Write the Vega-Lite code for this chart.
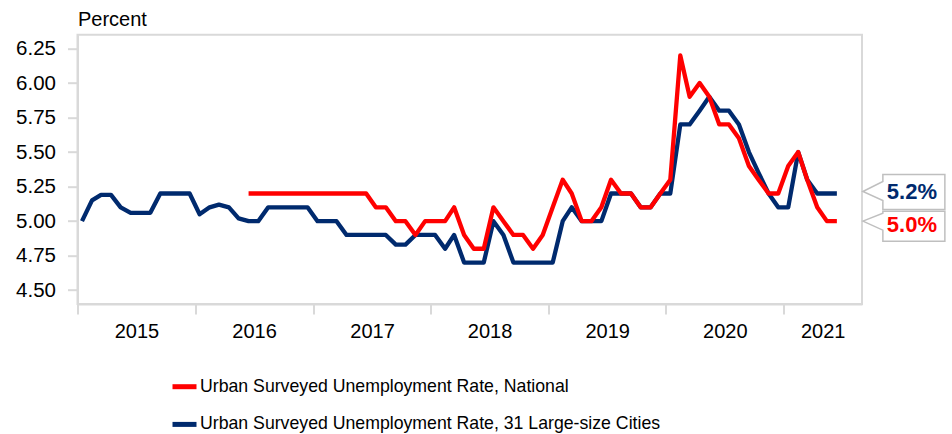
{
  "$schema": "https://vega.github.io/schema/vega-lite/v6.json",
  "autosize": {"type": "none"},
  "width": 784.5,
  "height": 269.3,
  "padding": {"left": 77.5, "top": 34.7, "right": 90, "bottom": 130},
  "background": "white",
  "data": {"values": [
    {"date": "2015-01-15", "series": "C", "rate": 5.0},
    {"date": "2015-02-15", "series": "C", "rate": 5.15},
    {"date": "2015-03-15", "series": "C", "rate": 5.19},
    {"date": "2015-04-15", "series": "C", "rate": 5.19},
    {"date": "2015-05-15", "series": "C", "rate": 5.1},
    {"date": "2015-06-15", "series": "C", "rate": 5.06},
    {"date": "2015-07-15", "series": "C", "rate": 5.06},
    {"date": "2015-08-15", "series": "C", "rate": 5.06},
    {"date": "2015-09-15", "series": "C", "rate": 5.2},
    {"date": "2015-10-15", "series": "C", "rate": 5.2},
    {"date": "2015-11-15", "series": "C", "rate": 5.2},
    {"date": "2015-12-15", "series": "C", "rate": 5.2},
    {"date": "2016-01-15", "series": "C", "rate": 5.05},
    {"date": "2016-02-15", "series": "C", "rate": 5.1},
    {"date": "2016-03-15", "series": "C", "rate": 5.12},
    {"date": "2016-04-15", "series": "C", "rate": 5.1},
    {"date": "2016-05-15", "series": "C", "rate": 5.02},
    {"date": "2016-06-15", "series": "C", "rate": 5.0},
    {"date": "2016-07-15", "series": "C", "rate": 5.0},
    {"date": "2016-08-15", "series": "C", "rate": 5.1},
    {"date": "2016-09-15", "series": "C", "rate": 5.1},
    {"date": "2016-10-15", "series": "C", "rate": 5.1},
    {"date": "2016-11-15", "series": "C", "rate": 5.1},
    {"date": "2016-12-15", "series": "C", "rate": 5.1},
    {"date": "2017-01-15", "series": "C", "rate": 5.0},
    {"date": "2017-02-15", "series": "C", "rate": 5.0},
    {"date": "2017-03-15", "series": "C", "rate": 5.0},
    {"date": "2017-04-15", "series": "C", "rate": 4.9},
    {"date": "2017-05-15", "series": "C", "rate": 4.9},
    {"date": "2017-06-15", "series": "C", "rate": 4.9},
    {"date": "2017-07-15", "series": "C", "rate": 4.9},
    {"date": "2017-08-15", "series": "C", "rate": 4.9},
    {"date": "2017-09-15", "series": "C", "rate": 4.83},
    {"date": "2017-10-15", "series": "C", "rate": 4.83},
    {"date": "2017-11-15", "series": "C", "rate": 4.9},
    {"date": "2017-12-15", "series": "C", "rate": 4.9},
    {"date": "2018-01-15", "series": "C", "rate": 4.9},
    {"date": "2018-02-15", "series": "C", "rate": 4.8},
    {"date": "2018-03-15", "series": "C", "rate": 4.9},
    {"date": "2018-04-15", "series": "C", "rate": 4.7},
    {"date": "2018-05-15", "series": "C", "rate": 4.7},
    {"date": "2018-06-15", "series": "C", "rate": 4.7},
    {"date": "2018-07-15", "series": "C", "rate": 5.0},
    {"date": "2018-08-15", "series": "C", "rate": 4.9},
    {"date": "2018-09-15", "series": "C", "rate": 4.7},
    {"date": "2018-10-15", "series": "C", "rate": 4.7},
    {"date": "2018-11-15", "series": "C", "rate": 4.7},
    {"date": "2018-12-15", "series": "C", "rate": 4.7},
    {"date": "2019-01-15", "series": "C", "rate": 4.7},
    {"date": "2019-02-15", "series": "C", "rate": 5.0},
    {"date": "2019-03-15", "series": "C", "rate": 5.1},
    {"date": "2019-04-15", "series": "C", "rate": 5.0},
    {"date": "2019-05-15", "series": "C", "rate": 5.0},
    {"date": "2019-06-15", "series": "C", "rate": 5.0},
    {"date": "2019-07-15", "series": "C", "rate": 5.2},
    {"date": "2019-08-15", "series": "C", "rate": 5.2},
    {"date": "2019-09-15", "series": "C", "rate": 5.2},
    {"date": "2019-10-15", "series": "C", "rate": 5.1},
    {"date": "2019-11-15", "series": "C", "rate": 5.1},
    {"date": "2019-12-15", "series": "C", "rate": 5.2},
    {"date": "2020-01-15", "series": "C", "rate": 5.2},
    {"date": "2020-02-15", "series": "C", "rate": 5.7},
    {"date": "2020-03-15", "series": "C", "rate": 5.7},
    {"date": "2020-04-15", "series": "C", "rate": 5.8},
    {"date": "2020-05-15", "series": "C", "rate": 5.9},
    {"date": "2020-06-15", "series": "C", "rate": 5.8},
    {"date": "2020-07-15", "series": "C", "rate": 5.8},
    {"date": "2020-08-15", "series": "C", "rate": 5.7},
    {"date": "2020-09-15", "series": "C", "rate": 5.5},
    {"date": "2020-10-15", "series": "C", "rate": 5.35},
    {"date": "2020-11-15", "series": "C", "rate": 5.2},
    {"date": "2020-12-15", "series": "C", "rate": 5.1},
    {"date": "2021-01-15", "series": "C", "rate": 5.1},
    {"date": "2021-02-15", "series": "C", "rate": 5.5},
    {"date": "2021-03-15", "series": "C", "rate": 5.3},
    {"date": "2021-04-15", "series": "C", "rate": 5.2},
    {"date": "2021-05-15", "series": "C", "rate": 5.2},
    {"date": "2021-06-15", "series": "C", "rate": 5.2, "label": "5.2%"},
    {"date": "2016-06-15", "series": "N", "rate": 5.2},
    {"date": "2016-07-15", "series": "N", "rate": 5.2},
    {"date": "2016-08-15", "series": "N", "rate": 5.2},
    {"date": "2016-09-15", "series": "N", "rate": 5.2},
    {"date": "2016-10-15", "series": "N", "rate": 5.2},
    {"date": "2016-11-15", "series": "N", "rate": 5.2},
    {"date": "2016-12-15", "series": "N", "rate": 5.2},
    {"date": "2017-01-15", "series": "N", "rate": 5.2},
    {"date": "2017-02-15", "series": "N", "rate": 5.2},
    {"date": "2017-03-15", "series": "N", "rate": 5.2},
    {"date": "2017-04-15", "series": "N", "rate": 5.2},
    {"date": "2017-05-15", "series": "N", "rate": 5.2},
    {"date": "2017-06-15", "series": "N", "rate": 5.2},
    {"date": "2017-07-15", "series": "N", "rate": 5.1},
    {"date": "2017-08-15", "series": "N", "rate": 5.1},
    {"date": "2017-09-15", "series": "N", "rate": 5.0},
    {"date": "2017-10-15", "series": "N", "rate": 5.0},
    {"date": "2017-11-15", "series": "N", "rate": 4.9},
    {"date": "2017-12-15", "series": "N", "rate": 5.0},
    {"date": "2018-01-15", "series": "N", "rate": 5.0},
    {"date": "2018-02-15", "series": "N", "rate": 5.0},
    {"date": "2018-03-15", "series": "N", "rate": 5.1},
    {"date": "2018-04-15", "series": "N", "rate": 4.9},
    {"date": "2018-05-15", "series": "N", "rate": 4.8},
    {"date": "2018-06-15", "series": "N", "rate": 4.8},
    {"date": "2018-07-15", "series": "N", "rate": 5.1},
    {"date": "2018-08-15", "series": "N", "rate": 5.0},
    {"date": "2018-09-15", "series": "N", "rate": 4.9},
    {"date": "2018-10-15", "series": "N", "rate": 4.9},
    {"date": "2018-11-15", "series": "N", "rate": 4.8},
    {"date": "2018-12-15", "series": "N", "rate": 4.9},
    {"date": "2019-01-15", "series": "N", "rate": 5.1},
    {"date": "2019-02-15", "series": "N", "rate": 5.3},
    {"date": "2019-03-15", "series": "N", "rate": 5.2},
    {"date": "2019-04-15", "series": "N", "rate": 5.0},
    {"date": "2019-05-15", "series": "N", "rate": 5.0},
    {"date": "2019-06-15", "series": "N", "rate": 5.1},
    {"date": "2019-07-15", "series": "N", "rate": 5.3},
    {"date": "2019-08-15", "series": "N", "rate": 5.2},
    {"date": "2019-09-15", "series": "N", "rate": 5.2},
    {"date": "2019-10-15", "series": "N", "rate": 5.1},
    {"date": "2019-11-15", "series": "N", "rate": 5.1},
    {"date": "2019-12-15", "series": "N", "rate": 5.2},
    {"date": "2020-01-15", "series": "N", "rate": 5.3},
    {"date": "2020-02-15", "series": "N", "rate": 6.2},
    {"date": "2020-03-15", "series": "N", "rate": 5.9},
    {"date": "2020-04-15", "series": "N", "rate": 6.0},
    {"date": "2020-05-15", "series": "N", "rate": 5.9},
    {"date": "2020-06-15", "series": "N", "rate": 5.7},
    {"date": "2020-07-15", "series": "N", "rate": 5.7},
    {"date": "2020-08-15", "series": "N", "rate": 5.6},
    {"date": "2020-09-15", "series": "N", "rate": 5.4},
    {"date": "2020-10-15", "series": "N", "rate": 5.3},
    {"date": "2020-11-15", "series": "N", "rate": 5.2},
    {"date": "2020-12-15", "series": "N", "rate": 5.2},
    {"date": "2021-01-15", "series": "N", "rate": 5.4},
    {"date": "2021-02-15", "series": "N", "rate": 5.5},
    {"date": "2021-03-15", "series": "N", "rate": 5.3},
    {"date": "2021-04-15", "series": "N", "rate": 5.1},
    {"date": "2021-05-15", "series": "N", "rate": 5.0},
    {"date": "2021-06-15", "series": "N", "rate": 5.0, "label": "5.0%"}
  ]},
  "encoding": {
    "x": {
      "field": "date", "type": "temporal",
      "scale": {"type": "utc", "domain": [{"year": 2015, "month": 1, "date": 1, "utc": true}, {"year": 2021, "month": 9, "date": 1, "utc": true}]},
      "axis": {
        "title": null,
        "values": [
          {"year": 2015, "month": 1, "date": 1, "utc": true},
          {"year": 2016, "month": 1, "date": 1, "utc": true},
          {"year": 2017, "month": 1, "date": 1, "utc": true},
          {"year": 2018, "month": 1, "date": 1, "utc": true},
          {"year": 2019, "month": 1, "date": 1, "utc": true},
          {"year": 2020, "month": 1, "date": 1, "utc": true},
          {"year": 2021, "month": 1, "date": 1, "utc": true}
        ],
        "format": "%Y", "formatType": "utc",
        "labelOffset": {"condition": {"test": "utcyear(datum.value) == 2021", "value": 39}, "value": 59},
        "labelFlush": false, "labelOverlap": false, "labelBound": false,
        "tickSize": 10, "labelPadding": 7.5, "grid": false
      }
    },
    "y": {
      "field": "rate", "type": "quantitative",
      "scale": {"domain": [4.4, 6.35], "nice": false, "zero": false},
      "axis": {
        "title": "Percent", "titleAngle": 0, "titleAlign": "left", "titleBaseline": "alphabetic",
        "titleX": 0, "titleY": -9, "titleFontWeight": "normal", "titleFontSize": 20,
        "titleFont": "Liberation Sans", "titleColor": "#000000",
        "values": [4.5, 4.75, 5.0, 5.25, 5.5, 5.75, 6.0, 6.25],
        "format": ".2f", "tickSize": 10, "labelPadding": 12, "grid": false, "labelFontSize": 20.5
      }
    }
  },
  "layer": [
    {
      "mark": {"type": "line", "strokeWidth": 4.3, "strokeJoin": "round", "strokeCap": "butt"},
      "encoding": {
        "color": {
          "field": "series", "type": "nominal",
          "scale": {"domain": ["N", "C"], "range": ["#FF0000", "#002A6E"]},
          "legend": {
            "title": null, "orient": "none", "legendX": 92.5, "legendY": 337.5,
            "direction": "vertical", "symbolType": "stroke", "symbolSize": 576, "symbolStrokeWidth": 5,
            "labelFontSize": 17.7, "labelFont": "Liberation Sans", "labelColor": "#000000", "labelLimit": 1000,
            "labelOffset": 1, "rowPadding": 12.7, "padding": 0, "offset": 0,
            "labelExpr": "datum.value == 'N' ? 'Urban Surveyed Unemployment Rate, National' : 'Urban Surveyed Unemployment Rate, 31 Large-size Cities'"
          }
        }
      }
    },
    {
      "transform": [{"filter": "datum.series == 'C' && isValid(datum.label)"}],
      "mark": {"type": "point", "shape": "M0,-2 L20,-12 L20,-19 L82,-19 L82,16 L20,16 L20,7 Z", "filled": true, "fill": "#FFFFFF", "stroke": "#BFBFBF", "strokeWidth": 1.5, "size": 4, "xOffset": 26, "opacity": 1}
    },
    {
      "transform": [{"filter": "datum.series == 'N' && isValid(datum.label)"}],
      "mark": {"type": "point", "shape": "M0,0 L20,-8 L20,-10 L82,-10 L82,20 L20,20 L20,9 Z", "filled": true, "fill": "#FFFFFF", "stroke": "#BFBFBF", "strokeWidth": 1.5, "size": 4, "xOffset": 26, "opacity": 1}
    },
    {
      "transform": [{"filter": "datum.series == 'C' && isValid(datum.label)"}],
      "mark": {"type": "text", "dx": 75, "dy": 5, "align": "center", "baseline": "alphabetic", "font": "Liberation Sans", "fontSize": 22, "fontWeight": "bold", "color": "#002A6E"},
      "encoding": {"text": {"field": "label"}}
    },
    {
      "transform": [{"filter": "datum.series == 'N' && isValid(datum.label)"}],
      "mark": {"type": "text", "dx": 75, "dy": 10.6, "align": "center", "baseline": "alphabetic", "font": "Liberation Sans", "fontSize": 22, "fontWeight": "bold", "color": "#FF0000"},
      "encoding": {"text": {"field": "label"}}
    }
  ],
  "config": {
    "view": {"stroke": "#D9D9D9", "strokeWidth": 2},
    "axis": {
      "domainColor": "#D9D9D9", "domainWidth": 2, "tickColor": "#D9D9D9", "tickWidth": 2,
      "labelFont": "Liberation Sans", "labelFontSize": 20, "labelColor": "#000000"
    }
  }
}
